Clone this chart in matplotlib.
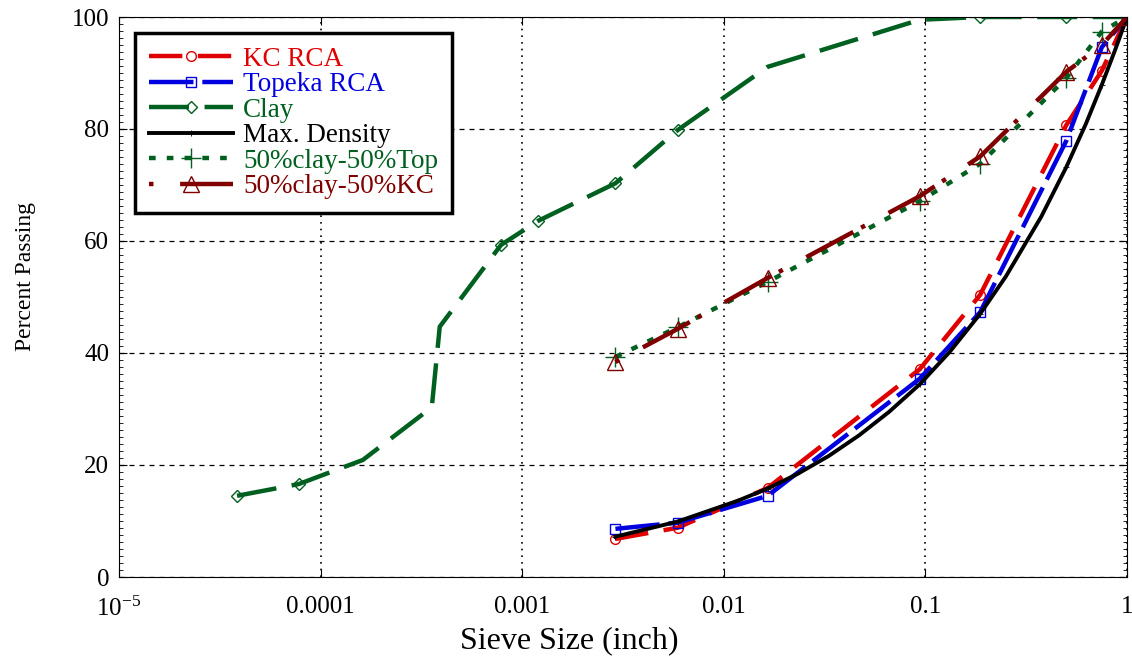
#!/usr/bin/env python3
"""Gradation curves: percent passing vs sieve size."""

import matplotlib
matplotlib.use("Agg")
import matplotlib.pyplot as plt
from matplotlib.ticker import FixedLocator, MultipleLocator, NullLocator

# sieve openings (inch)
sieve = [0.0029, 0.0059, 0.0165, 0.0937, 0.187, 0.5, 0.75, 1.0]

kc_rca = [6.8, 8.8, 15.9, 37.1, 50.4, 80.7, 90.4, 100]
topeka_rca = [8.6, 9.7, 14.5, 35.4, 47.3, 77.9, 94.6, 100]
mix_top = [39.3, 44.6, 52.7, 67.1, 73.8, 89.1, 97.4, 100]
mix_kc = [38.4, 44.3, 53.4, 68.0, 75.1, 90.2, 95.0, 100]

clay_size = [3.85e-5, 7.8e-5, 1.62e-4, 3.56e-4, 3.9e-4, 7.85e-4, 1.2e-3,
             0.0029, 0.0059, 0.0165, 0.0937, 0.187, 0.5, 1.0]
clay = [14.5, 16.6, 20.9, 30.3, 44.7, 59.3, 63.6,
        70.3, 79.8, 91.1, 99.5, 100, 100, 100]

maxd_size = [0.0029, 0.0059, 0.0117, 0.0165, 0.0232, 0.0331, 0.0469, 0.0661,
             0.0937, 0.132, 0.187, 0.25, 0.375, 0.5, 0.625, 0.75, 0.875, 1.0]
maxd = [7.2, 9.9, 13.6, 15.8, 18.4, 21.6, 25.3, 29.5,
        34.4, 40.2, 47.0, 53.6, 64.3, 73.2, 80.9, 87.9, 94.2, 100]

xticks = [1e-5, 1e-4, 1e-3, 1e-2, 1e-1, 1]
xtick_labels = ["$10^{-5}$", "0.0001", "0.001", "0.01", "0.1", "1"]

plt.rcParams["font.family"] = ["Liberation Serif", "DejaVu Serif"]
plt.rcParams["mathtext.fontset"] = "custom"
plt.rcParams["mathtext.rm"] = "Liberation Serif"
plt.rcParams["mathtext.it"] = "Liberation Serif"

fig = plt.figure(figsize=(11.32, 6.56), dpi=100)
ax = fig.add_axes([119 / 1132, 1 - 577 / 656, 1008 / 1132, 560 / 656])

lw = 3.2
ax.plot(sieve, kc_rca, color="#e00000", lw=lw, dashes=(7.5, 3.5),
        marker="o", ms=7, mfc="none", mec="#e00000", mew=1, label="KC RCA")
ax.plot(sieve, topeka_rca, color="#0000e0", lw=lw, dashes=(10, 2),
        marker="s", ms=7, mfc="none", mec="#0000e0", mew=1, label="Topeka RCA")
ax.plot(clay_size, clay, color="#006020", lw=lw, dashes=(9, 3.5),
        marker="D", ms=6, mfc="none", mec="#006020", mew=1,
        markevery=[0, 1, 5, 6, 7, 8, 11, 12], label="Clay")
ax.plot(maxd_size, maxd, color="black", lw=2.8, marker="+", ms=4, mew=0.6,
        markevery=[0, 1, 3, 8, 10, 13, 15], label="Max. Density")
ax.plot(sieve, mix_top, color="#006020", lw=lw, dashes=(1.5, 2.5),
        marker="+", ms=14, mew=1, mec="#006020", label="50%clay-50%Top")
ax.plot(sieve, mix_kc, color="#800000", lw=lw, dashes=(1, 6, 12, 2),
        marker="^", ms=11, mfc="none", mec="#800000", mew=1,
        label="50%clay-50%KC")

ax.set_xscale("log")
ax.set_xlim(1e-5, 1)
ax.set_ylim(0, 100)
ax.xaxis.set_major_locator(FixedLocator(xticks))
ax.set_xticklabels(xtick_labels)
ax.xaxis.set_minor_locator(NullLocator())
ax.yaxis.set_major_locator(MultipleLocator(20))
ax.yaxis.set_minor_locator(MultipleLocator(1.25))

ax.tick_params(which="both", direction="in", top=True, right=True)
ax.tick_params(which="major", length=6, labelsize=18, pad=7)
ax.tick_params(axis="x", which="major", pad=14)
ax.tick_params(which="minor", length=3)

ax.grid(True, axis="x", which="major", color="black", linestyle=(0, (1, 3)), lw=1.2)
ax.grid(True, axis="y", which="major", color="black", linestyle=(0, (4, 4)), lw=0.9)

ax.set_xlabel("Sieve Size (inch)", fontsize=23)
ax.set_ylabel("Percent Passing", fontsize=17)
ax.xaxis.set_label_coords(0.447, -0.088)
ax.yaxis.set_label_coords(-0.082, 0.536)

leg = ax.legend(loc="upper left", bbox_to_anchor=(16 / 1008, 1 - 16 / 560),
                fontsize=19.5, handlelength=3.1, handletextpad=0.4,
                labelspacing=0.02, borderpad=0.5, borderaxespad=0,
                fancybox=False, framealpha=1, edgecolor="black")
leg.get_frame().set_linewidth(2.5)
for text, line in zip(leg.get_texts(), leg.get_lines()):
    text.set_color(line.get_color())

fig.savefig("out.png", dpi=100)
